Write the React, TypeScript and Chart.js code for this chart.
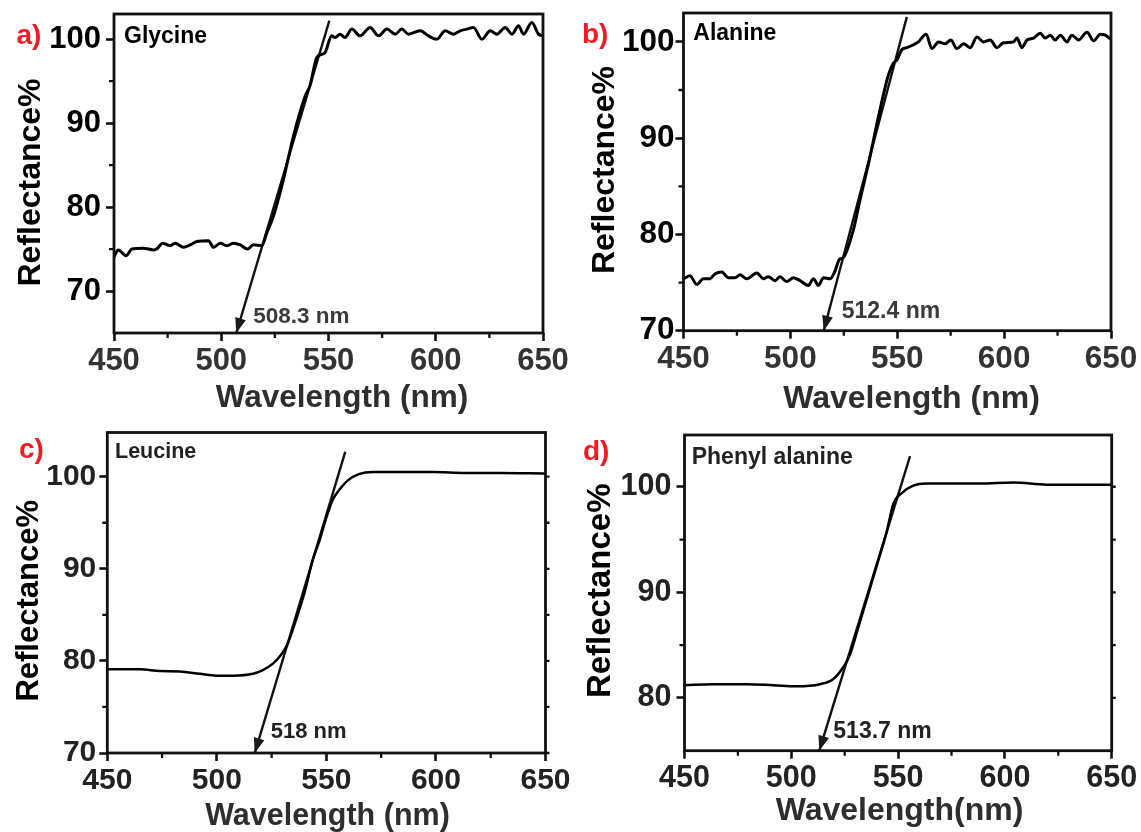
import React, { useEffect, useRef } from "react";
import { Chart, registerables } from "chart.js";

Chart.register(...registerables);

const FONT = '"Liberation Sans", Arial, Helvetica, sans-serif';

// shared axis ticks
const X_TICKS = [450, 500, 550, 600, 650];
const X_MINOR = [475, 525, 575, 625];

// a) Glycine
const glycineX = [450.0, 452.0, 455.6, 458.3, 463.7, 468.4, 469.9, 472.7, 476.1, 478.5, 482.4, 485.5, 488.6, 494.0, 496.4, 499.5, 502.6, 505.7, 508.8, 512.2, 515.0, 518.9, 521.2, 524.3, 529.0, 533.6, 539.1, 541.4, 544.5, 546.8, 548.4, 551.5, 553.1, 555.4, 557.7, 560.9, 564.7, 569.4, 573.3, 577.2, 581.1, 584.2, 587.3, 592.7, 596.6, 600.5, 604.4, 608.3, 611.4, 614.5, 617.6, 621.5, 625.4, 628.5, 632.4, 635.5, 638.6, 640.9, 644.8, 647.9, 650.0];
const glycineY = [74.1, 74.9, 74.2, 75.0, 75.1, 74.9, 75.0, 75.7, 75.4, 75.7, 75.2, 75.5, 75.9, 76.0, 75.2, 75.7, 75.4, 75.7, 75.5, 75.0, 75.5, 75.4, 76.9, 78.9, 83.3, 88.4, 93.2, 94.5, 97.8, 98.2, 98.4, 100.4, 100.2, 100.6, 100.2, 101.2, 100.4, 101.4, 100.4, 101.2, 100.6, 101.2, 100.6, 101.0, 100.4, 100.0, 101.0, 100.6, 101.0, 101.2, 101.4, 100.0, 101.0, 100.6, 101.4, 100.6, 101.6, 100.6, 102.0, 100.6, 100.4];
const glycineTanX = [507.0, 550.4];
const glycineTanY = [65, 102.2];
const glycineYTicks = [70, 80, 90, 100];
const glycineYMinor = [75, 85, 95];

// b) Alanine
const alanineX = [450.2, 453.0, 456.2, 459.3, 462.4, 464.7, 467.9, 471.0, 474.1, 476.5, 479.6, 484.3, 487.4, 489.7, 492.8, 495.2, 498.3, 501.4, 504.5, 508.4, 510.8, 513.1, 515.5, 518.6, 520.9, 522.9, 524.8, 529.5, 532.6, 536.6, 540.4, 543.5, 545.9, 548.2, 549.8, 552.2, 554.5, 557.6, 559.9, 563.5, 566.2, 569.3, 572.4, 575.1, 577.9, 581.0, 584.1, 587.3, 590.4, 593.5, 596.6, 599.7, 604.4, 606.0, 608.3, 610.7, 613.8, 616.9, 619.2, 621.6, 623.9, 626.3, 629.4, 631.7, 634.8, 638.8, 641.9, 645.0, 647.3, 649.7];
const alanineY = [75.4, 75.7, 74.8, 75.4, 75.4, 75.9, 76.1, 75.5, 75.5, 75.8, 75.4, 76.0, 75.4, 75.6, 75.2, 75.6, 75.1, 75.5, 75.2, 74.7, 75.4, 74.7, 75.5, 75.4, 76.2, 77.4, 77.6, 80.5, 83.6, 87.4, 91.4, 94.5, 96.6, 97.8, 98.1, 99.2, 99.4, 99.7, 100.0, 100.8, 99.3, 100.0, 99.8, 100.2, 99.3, 99.8, 99.4, 100.5, 100.0, 100.2, 99.4, 99.9, 100.0, 100.4, 99.4, 100.2, 100.4, 100.9, 100.4, 100.7, 100.2, 100.7, 100.0, 100.7, 100.2, 101.0, 100.1, 100.8, 100.7, 100.3];
const alanineTanX = [515.6, 554.5];
const alanineTanY = [70, 102.6];
const alanineYTicks = [70, 80, 90, 100];
const alanineYMinor = [75, 85, 95];

// c) Leucine
const leucineX = [450.0, 455.8, 464.9, 474.0, 483.1, 492.2, 499.8, 507.4, 516.5, 521.0, 525.6, 529.4, 532.4, 536.2, 540.0, 543.8, 546.9, 549.9, 552.9, 556.0, 559.8, 565.1, 571.1, 583.3, 598.4, 613.7, 628.8, 650.0];
const leucineY = [79.1, 79.1, 79.1, 78.9, 78.85, 78.6, 78.4, 78.4, 78.6, 79.0, 79.7, 80.7, 81.9, 84.5, 87.4, 91.0, 93.1, 95.5, 97.5, 98.6, 99.6, 100.3, 100.5, 100.5, 100.5, 100.4, 100.4, 100.35];
const leucineTanX = [517.3, 558.6];
const leucineTanY = [70, 102.7];
const leucineYTicks = [70, 80, 90, 100];
const leucineYMinor = [75, 85, 95];

// d) Phenyl alanine
const phenylX = [450.0, 463.5, 479.1, 491.6, 502.5, 513.4, 519.7, 524.3, 527.5, 531.4, 536.0, 540.7, 544.5, 547.8, 551.7, 557.1, 563.4, 572.8, 588.3, 603.9, 619.6, 635.2, 650.0];
const phenylY = [81.2, 81.3, 81.3, 81.2, 81.1, 81.3, 81.8, 82.9, 84.1, 86.7, 89.8, 93.0, 95.6, 98.4, 99.4, 100.1, 100.3, 100.3, 100.3, 100.4, 100.2, 100.2, 100.2];
const phenylTanX = [513.1, 555.6];
const phenylTanY = [75, 102.9];
const phenylYTicks = [80, 90, 100];
const phenylYMinor = [85, 95];

type TextSpec = { text: string; x: number; y: number; size: number; color: string };

type Panel = {
  left: number; top: number; W: number; H: number;
  L: number; R: number; T: number; B: number;
  yMin: number; yMax: number; yTicks: number[]; yMinor: number[];
  xs: number[]; ys: number[]; tx: number[]; ty: number[];
  lineW: number; tickSize: number; yLabelPad: number; xTickColor: string; yTickColor: string;
  rightTicks: boolean;
  yTitle: { text: string; x: number; y: number; size: number };
  xTitle: { text: string; x: number; y: number; size: number };
  tag: TextSpec; name: TextSpec; note: TextSpec;
};

const PANELS: Panel[] = [
  {
    left: 0, top: 0, W: 570, H: 416, L: 114, R: 27, T: 14, B: 83,
    yMin: 65, yMax: 103, yTicks: glycineYTicks, yMinor: glycineYMinor,
    xs: glycineX, ys: glycineY, tx: glycineTanX, ty: glycineTanY,
    lineW: 3, tickSize: 31, yLabelPad: 5, xTickColor: "#333", yTickColor: "#000", rightTicks: false,
    yTitle: { text: "Reflectance%", x: 40, y: 182.5, size: 32 },
    xTitle: { text: "Wavelength (nm)", x: 342, y: 406.5, size: 31.5 },
    tag: { text: "a)", x: 16.5, y: 43.5, size: 28, color: "#ee1c24" },
    name: { text: "Glycine", x: 124, y: 42.7, size: 23, color: "#000" },
    note: { text: "508.3 nm", x: 253.3, y: 322.7, size: 22.5, color: "#3a3a3a" },
  },
  {
    left: 570, top: 0, W: 571, H: 416, L: 113.5, R: 30, T: 13, B: 85.3,
    yMin: 70, yMax: 103, yTicks: alanineYTicks, yMinor: alanineYMinor,
    xs: alanineX, ys: alanineY, tx: alanineTanX, ty: alanineTanY,
    lineW: 3, tickSize: 31.5, yLabelPad: 1, xTickColor: "#333", yTickColor: "#000", rightTicks: false,
    yTitle: { text: "Reflectance%", x: 44, y: 170, size: 32 },
    xTitle: { text: "Wavelength (nm)", x: 341.5, y: 408, size: 32 },
    tag: { text: "b)", x: 12, y: 43, size: 28, color: "#ee1c24" },
    name: { text: "Alanine", x: 123.3, y: 39.7, size: 23, color: "#000" },
    note: { text: "512.4 nm", x: 271.7, y: 318.3, size: 23, color: "#3a3a3a" },
  },
  {
    left: 0, top: 416, W: 570, H: 416, L: 107.3, R: 24.5, T: 16.5, B: 79,
    yMin: 70, yMax: 104.8, yTicks: leucineYTicks, yMinor: leucineYMinor,
    xs: leucineX, ys: leucineY, tx: leucineTanX, ty: leucineTanY,
    lineW: 2.5, tickSize: 30, yLabelPad: 3, xTickColor: "#222", yTickColor: "#222", rightTicks: true,
    yTitle: { text: "Reflectance%", x: 38, y: 184.8, size: 31 },
    xTitle: { text: "Wavelength (nm)", x: 327.5, y: 409, size: 30.5 },
    tag: { text: "c)", x: 19, y: 42, size: 28, color: "#ee1c24" },
    name: { text: "Leucine", x: 115, y: 42.3, size: 21.5, color: "#222" },
    note: { text: "518 nm", x: 270.7, y: 321.7, size: 22, color: "#222" },
  },
  {
    left: 570, top: 416, W: 571, H: 416, L: 114.5, R: 29.3, T: 19, B: 81.3,
    yMin: 75, yMax: 104.9, yTicks: phenylYTicks, yMinor: phenylYMinor,
    xs: phenylX, ys: phenylY, tx: phenylTanX, ty: phenylTanY,
    lineW: 2.5, tickSize: 30.5, yLabelPad: 5, xTickColor: "#222", yTickColor: "#222", rightTicks: true,
    yTitle: { text: "Reflectance%", x: 40, y: 174.8, size: 33 },
    xTitle: { text: "Wavelength(nm)", x: 329.5, y: 404, size: 32 },
    tag: { text: "d)", x: 13, y: 44, size: 28, color: "#ee1c24" },
    name: { text: "Phenyl alanine", x: 121.7, y: 48, size: 23, color: "#222" },
    note: { text: "513.7 nm", x: 263.3, y: 322.3, size: 23, color: "#222" },
  },
];

function pts(xs: number[], ys: number[]) {
  return xs.map((x, i) => ({ x, y: ys[i] }));
}

function makeDecor(p: Panel) {
  return {
    id: "decor",
    afterDraw(chart: any) {
      const ctx: CanvasRenderingContext2D = chart.ctx;
      const a = chart.chartArea;
      const xs = chart.scales.x;
      const ys = chart.scales.y;
      ctx.save();
      // arrow head at the tangent's axis crossing
      const x0 = xs.getPixelForValue(p.tx[0]);
      const y0 = ys.getPixelForValue(p.ty[0]);
      const x1 = xs.getPixelForValue(p.tx[1]);
      const y1 = ys.getPixelForValue(p.ty[1]);
      const len = Math.hypot(x0 - x1, y0 - y1);
      const dx = (x0 - x1) / len, dy = (y0 - y1) / len;
      const bx = x0 - dx * 15, by = y0 - dy * 15;
      const nx = -dy, ny = dx;
      ctx.fillStyle = "#1a1a1a";
      ctx.beginPath();
      ctx.moveTo(x0, y0);
      ctx.lineTo(bx + nx * 5.5, by + ny * 5.5);
      ctx.lineTo(bx - nx * 5.5, by - ny * 5.5);
      ctx.closePath();
      ctx.fill();

      // frame
      ctx.strokeStyle = "#111";
      ctx.lineWidth = 2.8;
      ctx.strokeRect(a.left, a.top, a.right - a.left, a.bottom - a.top);

      // minor ticks
      ctx.lineWidth = 2.3;
      ctx.beginPath();
      for (const v of X_MINOR) {
        const px = xs.getPixelForValue(v);
        ctx.moveTo(px, a.bottom);
        ctx.lineTo(px, a.bottom + 5);
      }
      for (const v of p.yMinor) {
        const py = ys.getPixelForValue(v);
        ctx.moveTo(a.left, py);
        ctx.lineTo(a.left - 5, py);
      }
      if (p.rightTicks) {
        for (const v of [...p.yTicks, ...p.yMinor]) {
          const py = ys.getPixelForValue(v);
          ctx.moveTo(a.right, py);
          ctx.lineTo(a.right + 4, py);
        }
      }
      ctx.stroke();

      const font = (s: number) => `bold ${s}px ${FONT}`;
      ctx.textBaseline = "alphabetic";
      // texts
      for (const t of [p.tag, p.name, p.note]) {
        ctx.font = font(t.size);
        ctx.fillStyle = t.color;
        ctx.textAlign = "left";
        ctx.fillText(t.text, t.x, t.y);
      }
      // x title
      ctx.font = font(p.xTitle.size);
      ctx.fillStyle = "#2e2e2e";
      ctx.textAlign = "center";
      ctx.fillText(p.xTitle.text, p.xTitle.x, p.xTitle.y);
      // y title
      ctx.save();
      ctx.translate(p.yTitle.x, p.yTitle.y);
      ctx.rotate(-Math.PI / 2);
      ctx.font = font(p.yTitle.size);
      ctx.fillStyle = "#000";
      ctx.textAlign = "center";
      ctx.fillText(p.yTitle.text, 0, 0);
      ctx.restore();
      ctx.restore();
    },
  };
}

function PanelChart({ p }: { p: Panel }) {
  const ref = useRef<HTMLCanvasElement | null>(null);
  useEffect(() => {
    if (!ref.current) return;
    const tickFont = { family: FONT, size: p.tickSize, weight: "bold" as const };
    const chart = new Chart(ref.current, {
      type: "line",
      data: {
        datasets: [
          {
            data: pts(p.xs, p.ys),
            borderColor: "#000",
            borderWidth: p.lineW,
            pointRadius: 0,
            cubicInterpolationMode: "monotone",
            fill: false,
          },
          {
            data: pts(p.tx, p.ty),
            borderColor: "#111",
            borderWidth: 2.4,
            pointRadius: 0,
            tension: 0,
            fill: false,
          },
        ],
      },
      options: {
        responsive: false,
        animation: false,
        devicePixelRatio: 1,
        layout: { padding: { left: 0, top: p.T, right: p.R, bottom: 0 } },
        plugins: { legend: { display: false }, tooltip: { enabled: false }, title: { display: false } },
        scales: {
          x: {
            type: "linear",
            min: 450,
            max: 650,
            afterBuildTicks: (s: any) => {
              s.ticks = X_TICKS.map((v) => ({ value: v }));
            },
            afterFit: (s: any) => {
              s.height = p.B;
              s.paddingLeft = 0;
              s.paddingRight = 0;
            },
            ticks: {
              font: tickFont,
              color: p.xTickColor,
              padding: 2,
              maxRotation: 0,
              autoSkip: false,
              callback: (v: any) => String(v),
            },
            grid: { display: true, drawOnChartArea: false, drawTicks: true, tickLength: 8, tickWidth: 2.6, tickColor: "#111" },
            border: { display: false },
          },
          y: {
            type: "linear",
            min: p.yMin,
            max: p.yMax,
            afterBuildTicks: (s: any) => {
              s.ticks = p.yTicks.map((v) => ({ value: v }));
            },
            afterFit: (s: any) => {
              s.width = p.L;
              s.paddingTop = 0;
              s.paddingBottom = 0;
            },
            ticks: {
              font: tickFont,
              color: p.yTickColor,
              padding: p.yLabelPad,
              autoSkip: false,
              callback: (v: any) => String(v),
            },
            grid: { display: true, drawOnChartArea: false, drawTicks: true, tickLength: 8, tickWidth: 2.6, tickColor: "#111" },
            border: { display: false },
          },
        },
      },
      plugins: [makeDecor(p)],
    } as any);
    return () => chart.destroy();
  }, [p]);
  return (
    <canvas
      ref={ref}
      width={p.W}
      height={p.H}
      style={{ position: "absolute", left: p.left, top: p.top, width: p.W, height: p.H }}
    />
  );
}

export default function App() {
  return (
    <div style={{ position: "absolute", left: 0, top: 0, width: 1141, height: 832, background: "#fff", overflow: "hidden" }}>
      {PANELS.map((p, i) => (
        <PanelChart key={i} p={p} />
      ))}
    </div>
  );
}
